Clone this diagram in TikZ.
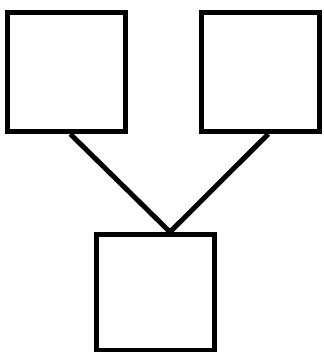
\documentclass[tikz,border=0pt]{standalone}
\usetikzlibrary{positioning,calc}

\begin{document}
\begin{tikzpicture}[x=1pt,y=-1pt,
    box/.style={draw,line width=5pt,minimum width=118pt,minimum height=119pt,inner sep=0pt},
    link/.style={line width=5pt}]
    \useasboundingbox (0,0) rectangle (323,352);
    \node[box] (left) at (66.3,72) {};
    \node[box] (right) at (260.3,72) {};
    \node[box,minimum height=116pt] (bottom) at (155,292.5) {};
    \coordinate (meet) at ($(bottom.north)+(15,0)$);
    \draw[link] ($(left.south)+(4,0)$) -- (meet) -- ($(right.south)+(8,0)$);
  \end{tikzpicture}
\end{document}
